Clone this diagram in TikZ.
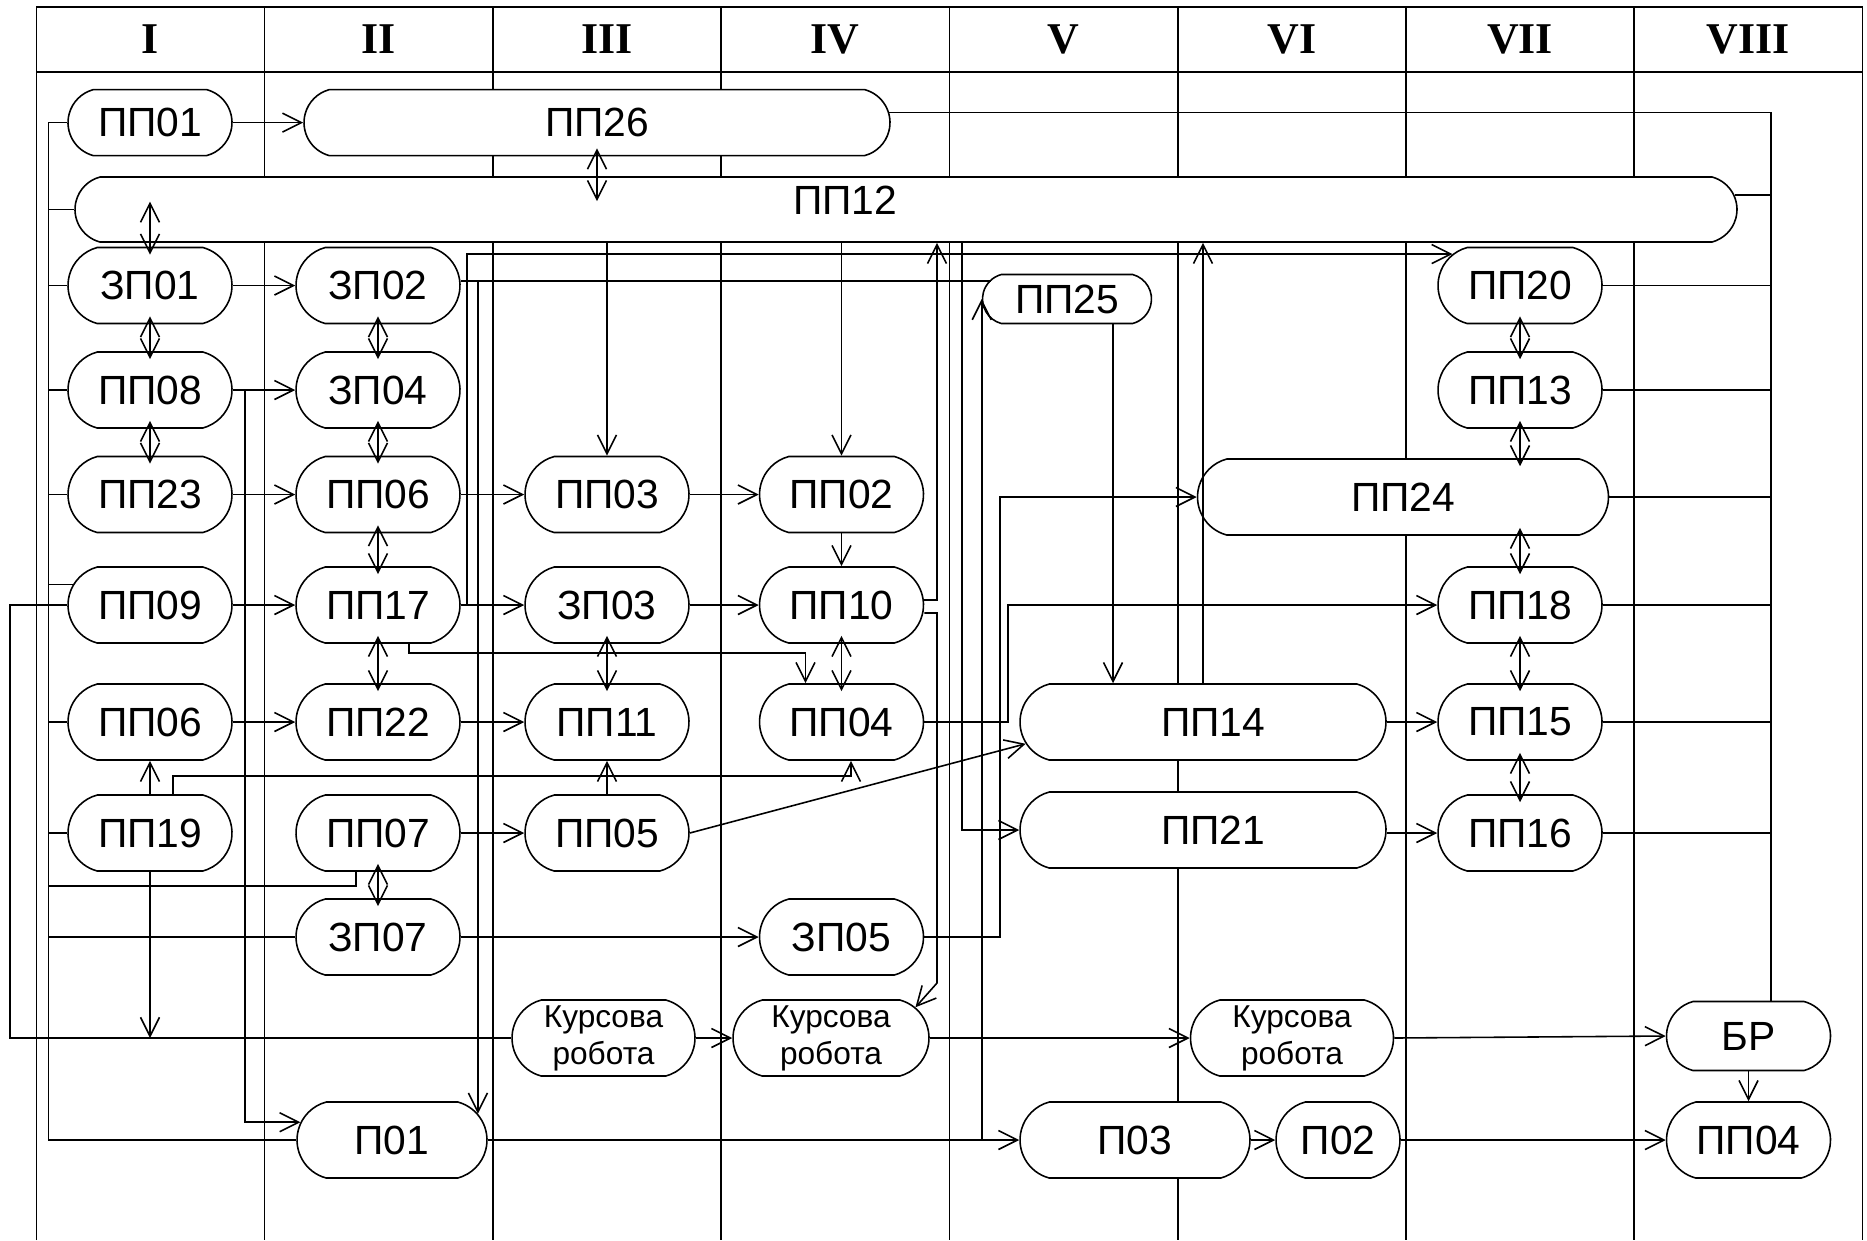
\documentclass[tikz,border=0pt]{standalone}
\usepackage{fontspec}
\setmainfont{Liberation Sans}
\newfontfamily\romanfont{Liberation Serif}
\usetikzlibrary{shapes.misc,arrows.meta}
\tikzset{
  subj/.style={draw, fill=white, rounded rectangle, rounded rectangle arc length=150,
    minimum width=1.71cm, minimum height=0.76cm, inner sep=1pt, font=\fontsize{11.6}{13}\selectfont},
  kurs/.style={subj, align=center, font=\fontsize{9}{10.5}\selectfont},
  hdr/.style={font=\romanfont\bfseries\fontsize{12.5}{14}\selectfont},
  arr/.style={-{Straight Barb[length=1.9mm,width=1.9mm]}},
  dbl/.style={{Straight Barb[length=1.9mm,width=1.9mm]}-{Straight Barb[length=1.9mm,width=1.9mm]},
    shorten <=-0.8mm, shorten >=-0.8mm}
}
\begin{document}
\begin{tikzpicture}[line width=0.45pt]
\useasboundingbox (0,0) rectangle (18.67,-12.40);

\draw (0.364,-12.40) -- (0.364,-0.067) -- (18.624,-0.067) -- (18.624,-12.40);
\draw (0.364,-0.717) -- (18.624,-0.717);
\draw (2.647,-0.067) -- (2.647,-12.40);
\draw (4.929,-0.067) -- (4.929,-12.40);
\draw (7.212,-0.067) -- (7.212,-12.40);
\draw (9.494,-0.067) -- (9.494,-12.40);
\draw (11.777,-0.067) -- (11.777,-12.40);
\draw (14.059,-0.067) -- (14.059,-12.40);
\draw (16.342,-0.067) -- (16.342,-12.40);

\node[hdr] (h1) at (1.505,-0.39) {I};
\node[hdr] (h2) at (3.788,-0.39) {II};
\node[hdr] (h3) at (6.070,-0.39) {III};
\node[hdr] (h4) at (8.353,-0.39) {IV};
\node[hdr] (h5) at (10.635,-0.39) {V};
\node[hdr] (h6) at (12.918,-0.39) {VI};
\node[hdr] (h7) at (15.200,-0.39) {VII};
\node[hdr] (h8) at (17.483,-0.39) {VIII};

\node[subj, minimum height=0.66cm] (pp01) at (1.50,-1.226) {ПП01};
\node[subj, minimum width=5.93cm, minimum height=0.66cm] (pp26) at (5.97,-1.226) {ПП26};
\node[subj, minimum width=16.69cm, minimum height=0.65cm] (pp12) at (9.06,-2.095) {\raisebox{0.19cm}{ПП12}\kern1.22cm};

\node[subj] (zp01) at (1.50,-2.855) {ЗП01};
\node[subj] (pp08) at (1.50,-3.90) {ПП08};
\node[subj] (pp23) at (1.50,-4.945) {ПП23};
\node[subj] (pp09) at (1.50,-6.05) {ПП09};
\node[subj] (pp06a) at (1.50,-7.22) {ПП06};
\node[subj] (pp19) at (1.50,-8.33) {ПП19};

\node[subj] (zp02) at (3.78,-2.855) {ЗП02};
\node[subj] (zp04) at (3.78,-3.90) {ЗП04};
\node[subj] (pp06b) at (3.78,-4.945) {ПП06};
\node[subj] (pp17) at (3.78,-6.05) {ПП17};
\node[subj] (pp22) at (3.78,-7.22) {ПП22};
\node[subj] (pp07) at (3.78,-8.33) {ПП07};
\node[subj] (zp07) at (3.78,-9.37) {ЗП07};
\node[subj, minimum width=1.97cm] (p01) at (3.92,-11.40) {П01};

\node[subj] (pp03) at (6.07,-4.945) {ПП03};
\node[subj] (zp03) at (6.07,-6.05) {ЗП03};
\node[subj] (pp11) at (6.07,-7.22) {ПП11};
\node[subj] (pp05) at (6.07,-8.33) {ПП05};
\node[kurs, minimum width=1.90cm] (kr3) at (6.035,-10.38) {Курсова\\робота};

\node[subj] (pp02) at (8.415,-4.945) {ПП02};
\node[subj] (pp10) at (8.415,-6.05) {ПП10};
\node[subj] (pp04b) at (8.415,-7.22) {ПП04};
\node[subj] (zp05) at (8.415,-9.37) {ЗП05};
\node[kurs, minimum width=2.03cm] (kr4) at (8.31,-10.38) {Курсова\\робота};

\node[subj, minimum width=1.76cm, minimum height=0.49cm] (pp25) at (10.67,-2.99) {ПП25};
\node[subj, minimum width=4.18cm] (pp24) at (14.03,-4.97) {ПП24};
\node[subj, minimum width=3.73cm] (pp14) at (12.03,-7.22) {\kern0.2cm ПП14};
\node[subj, minimum width=3.73cm] (pp21) at (12.03,-8.30) {\kern0.2cm ПП21};
\node[kurs, minimum width=2.10cm] (kr6) at (12.92,-10.38) {Курсова\\робота};
\node[subj, minimum width=2.37cm] (p03) at (11.35,-11.40) {П03};
\node[subj, minimum width=1.31cm] (p02) at (13.38,-11.40) {П02};

\node[subj] (pp20) at (15.20,-2.855) {ПП20};
\node[subj] (pp13) at (15.20,-3.90) {ПП13};
\node[subj] (pp18) at (15.20,-6.05) {ПП18};
\node[subj] (pp15) at (15.20,-7.22) {ПП15};
\node[subj] (pp16) at (15.20,-8.33) {ПП16};

\node[subj, minimum height=0.69cm] (br) at (17.485,-10.36) {БР};
\node[subj] (pp04c) at (17.485,-11.40) {ПП04};

\coordinate (lbus) at (0.485,0);
\coordinate (rbus) at (17.71,0);
\coordinate (fl) at (0.10,0);
\coordinate (v08) at (2.45,0);
\coordinate (v17) at (4.67,0);
\coordinate (v10) at (9.37,0);
\coordinate (v12) at (9.62,0);
\coordinate (v05) at (10.00,0);
\coordinate (v04) at (10.08,0);
\coordinate (b07) at (0.485,-8.86);
\coordinate (b10) at (9.37,-9.83);
\coordinate (c19) at (8.51,-7.76);

\draw[arr] (pp01.east) -- (pp26.west);
\draw[arr] (zp01.east) -- (zp02.west);
\draw[arr] (pp08.east) -- (zp04.west);
\draw[arr] (pp23.east) -- (pp06b.west);
\draw[arr] (pp06b.east) -- (pp03.west);
\draw[arr] (pp03.east) -- (pp02.west);
\draw[arr] (pp09.east) -- (pp17.west);
\draw[arr] (pp17.east) -- (zp03.west);
\draw[arr] (zp03.east) -- (pp10.west);
\draw[arr] (pp06a.east) -- (pp22.west);
\draw[arr] (pp22.east) -- (pp11.west);
\draw[arr] (pp07.east) -- (pp05.west);
\draw[arr] (zp07.east) -- (zp05.west);
\draw[arr] (pp14.east) -- (pp15.west);
\draw[arr] (pp21.east |- pp16.west) -- (pp16.west);
\draw[arr] (kr3.east) -- (kr4.west);
\draw[arr] (kr4.east) -- (kr6.west);
\draw[arr] (kr6.east) -- (br.west);
\draw[arr] (br.south) -- (pp04c.north);
\draw[arr] (p01.east) -- (p03.west);
\draw[arr] (p03.east) -- (p02.west);
\draw[arr] (p02.east) -- (pp04c.west);

\draw[dbl] (pp26.south) -- ([yshift=-1.7mm]pp26.south |- pp12.north);
\draw[dbl] (zp01.north |- pp12.center) -- (zp01.north);
\draw[dbl] (zp01.south) -- (pp08.north);
\draw[dbl] (pp08.south) -- (pp23.north);
\draw[dbl] (zp02.south) -- (zp04.north);
\draw[dbl] (zp04.south) -- (pp06b.north);
\draw[dbl] (pp06b.south) -- (pp17.north);
\draw[dbl] (pp17.south) -- (pp22.north);
\draw[dbl] (zp03.south) -- (pp11.north);
\draw[dbl] (pp10.south) -- (pp04b.north);
\draw[dbl] (pp07.south) -- (zp07.north);
\draw[dbl] (pp20.south) -- (pp13.north);
\draw[dbl] (pp13.south) -- (pp13.south |- pp24.north);
\draw[dbl] (pp18.north |- pp24.south) -- (pp18.north);
\draw[dbl] (pp18.south) -- (pp15.north);
\draw[dbl] (pp15.south) -- (pp16.north);

\draw[arr] (pp03.north |- pp12.south) -- (pp03.north);
\draw[arr] (pp02.north |- pp12.south) -- (pp02.north);
\draw[arr] (pp02.south) -- (pp10.north);
\draw[arr] (pp05.north) -- (pp11.south);
\draw[arr] (pp19.north) -- (pp06a.south);
\draw[arr] (pp19.south) -- (pp19.south |- kr3.west);
\draw[arr] ([xshift=4.6mm]pp25.south) -- ([xshift=4.6mm]pp25.south |- pp14.north);
\draw[arr] (pp14.north) -- (pp14.north |- pp12.south);

\draw[arr] ([xshift=2.3mm]pp19.north) |- (c19) -- (c19 |- pp04b.south);
\draw[arr] ([xshift=3.1mm]pp17.south) -- ++(0,-0.09) -| ([xshift=-3.6mm]pp04b.north);
\draw[arr] (pp08.east) -| (v08 |- p01.169) -- (p01.169);
\draw[arr] (pp17.east) -| (v17 |- pp20.155) -- (pp20.155);
\draw ([yshift=.45mm]zp02.east) -- ([yshift=.45mm]zp02.east -| pp25.165);
\draw[arr] ([yshift=.45mm]zp02.east) -| (p01.17);
\draw[arr] ([yshift=.5mm]pp10.east) -| (v10 |- pp12.south);
\draw[arr] ([yshift=-.8mm]pp10.east) -| (b10) -- (kr4.20);
\draw[arr] (v12 |- pp12.south) |- (pp21.west);
\draw[arr] (pp25.west |- p01.east) -- (pp25.west);
\draw[arr] (zp05.east) -| (v05 |- pp24.west) -- (pp24.west);
\draw[arr] (pp04b.east) -| (v04 |- pp18.west) -- (pp18.west);
\draw[arr] (pp05.east) -- (pp14.187);
\draw (pp09.west) -| (fl |- kr3.west) -- (kr3.west);

\draw (pp01.west) -| (lbus |- p01.west) -- (p01.west);
\draw (pp12.west) -- (pp12.west -| lbus);
\draw (zp01.west) -- (zp01.west -| lbus);
\draw (pp08.west) -- (pp08.west -| lbus);
\draw (pp23.west) -- (pp23.west -| lbus);
\draw (pp09.165) -- (pp09.165 -| lbus);
\draw (pp06a.west) -- (pp06a.west -| lbus);
\draw (pp19.west) -- (pp19.west -| lbus);
\draw (zp07.west) -- (zp07.west -| lbus);
\draw ([xshift=-2.2mm]pp07.south) |- (b07);

\draw (pp26.2) -| (rbus |- br.north);
\draw (pp12.1) -- (pp12.1 -| rbus);
\draw (pp20.east) -- (pp20.east -| rbus);
\draw (pp13.east) -- (pp13.east -| rbus);
\draw (pp24.east) -- (pp24.east -| rbus);
\draw (pp18.east) -- (pp18.east -| rbus);
\draw (pp15.east) -- (pp15.east -| rbus);
\draw (pp16.east) -- (pp16.east -| rbus);
\end{tikzpicture}
\end{document}
